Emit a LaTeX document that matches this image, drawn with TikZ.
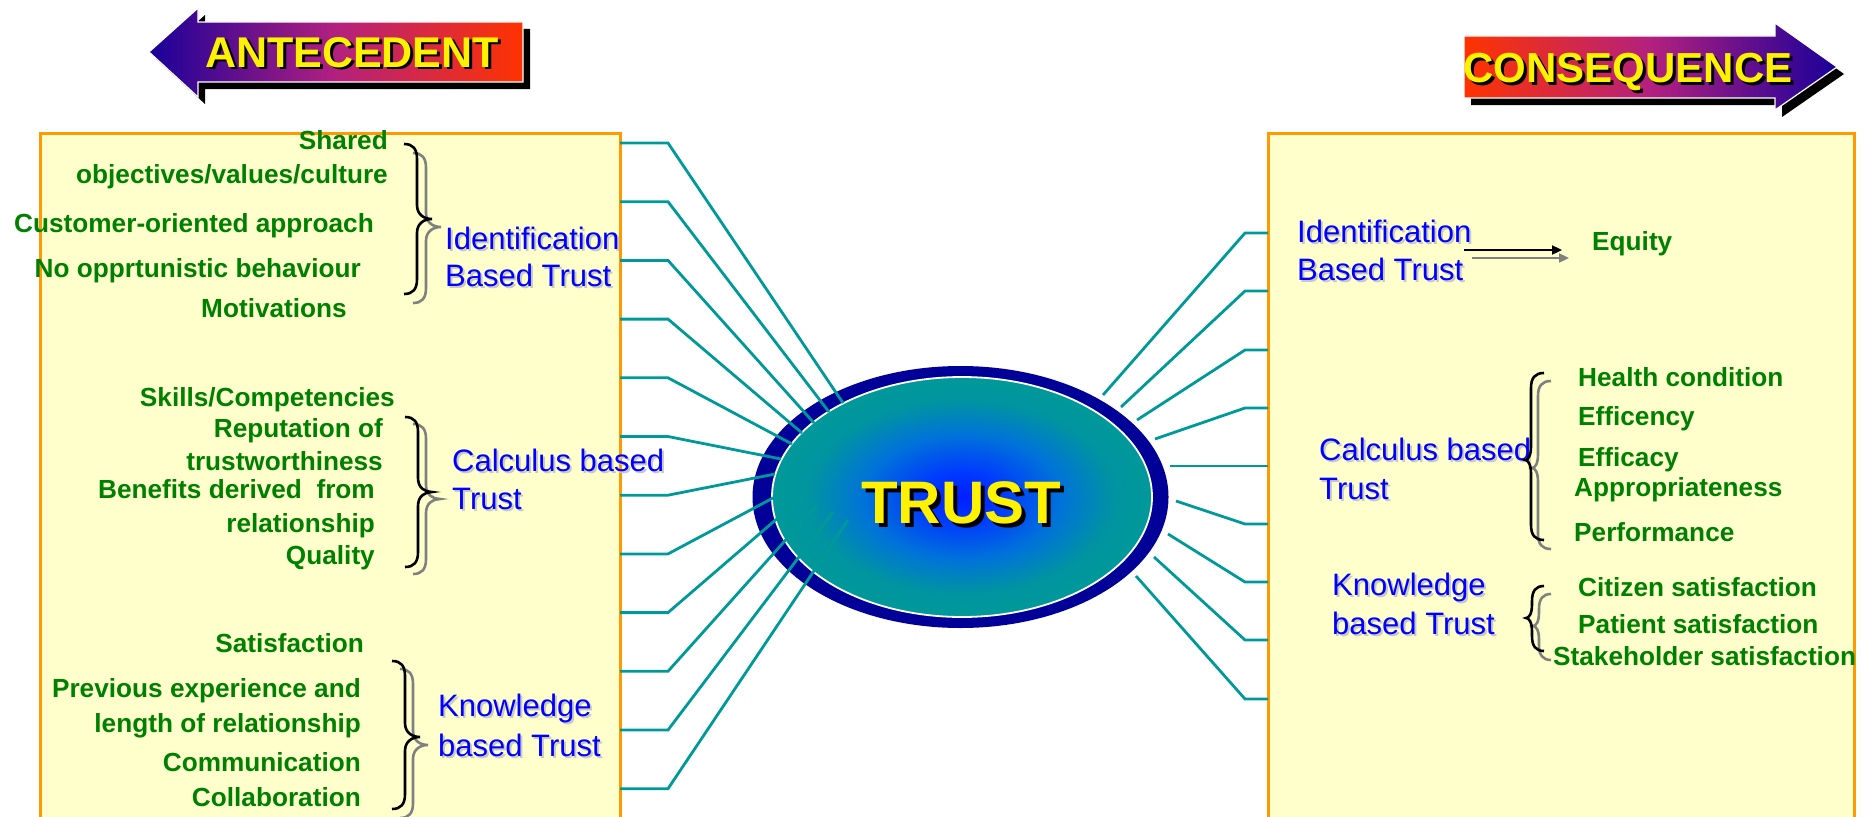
\documentclass[tikz,border=0pt]{standalone}
\usepackage{fontspec}
\setmainfont{Liberation Sans}
\usetikzlibrary{arrows.meta}
\definecolor{boxfill}{HTML}{FFFFCC}
\definecolor{boxline}{HTML}{FF9900}
\definecolor{conncol}{HTML}{009999}
\definecolor{gtext}{HTML}{008000}
\definecolor{btext}{HTML}{0000FF}
\definecolor{ringcol}{HTML}{000099}
\definecolor{arrblue}{HTML}{1A0099}
\definecolor{arrred}{HTML}{FF3300}
\definecolor{arrmid}{HTML}{B3207F}
\definecolor{bshcol}{HTML}{C8C8C8}
\pgfdeclareradialshading{trustshade}{\pgfpoint{0bp}{0bp}}{rgb(0bp)=(0,0.12,1); rgb(5bp)=(0,0.22,1); rgb(13bp)=(0,0.45,0.85); rgb(20bp)=(0,0.58,0.63); rgb(25bp)=(0,0.6,0.6); rgb(50bp)=(0,0.6,0.6)}
\newcommand\cbrace[7]{% style, x tip, y top, y mid, y bottom, w1, w2
  \draw[#1] (#2,#3) .. controls ({#2+0.7*(#6)},#3) and ({#2+(#6)},{#3+5}) .. ({#2+(#6)},{#3+15})
    -- ({#2+(#6)},{#4-14}) .. controls ({#2+(#6)},{#4-4}) and ({#2+(#6)+0.5*(#7)},#4) .. ({#2+(#6)+(#7)},#4)
    .. controls ({#2+(#6)+0.5*(#7)},#4) and ({#2+(#6)},{#4+4}) .. ({#2+(#6)},{#4+14})
    -- ({#2+(#6)},{#5-15}) .. controls ({#2+(#6)},{#5-5}) and ({#2+0.7*(#6)},#5) .. (#2,#5);}
\newcommand\bluetext[4]{% name, x, baseline, text
  \node[bsh, anchor=base west] at ({#2+2},{#3+2}) {#4};
  \node[btxt, anchor=base west] (#1) at (#2,#3) {#4};}
\newcommand\yeltext[5]{% name, x, baseline, size, text
  \node[ytxt, text=black, anchor=base, font=\fontsize{#4}{#4}\selectfont\bfseries] at ({#2+3},{#3+3}) {#5};
  \node[ytxt, anchor=base, font=\fontsize{#4}{#4}\selectfont\bfseries] (#1) at (#2,#3) {#5};}
\begin{document}
\begin{tikzpicture}[x=1pt,y=-1pt,
  gtxt/.style={text=gtext, font=\fontsize{26.2}{30}\selectfont\bfseries, inner sep=0pt},
  btxt/.style={text=btext, font=\fontsize{31}{36}\selectfont, inner sep=0pt},
  bsh/.style={text=bshcol, font=\fontsize{31}{36}\selectfont, inner sep=0pt},
  ytxt/.style={text=yellow, inner sep=0pt},
  conn/.style={conncol, line width=2.8pt},
  panel/.style={fill=boxfill, draw=boxline, line width=3pt},
  bblack/.style={black, line width=2.6pt},
  bgray/.style={gray, line width=2.6pt}]
\useasboundingbox (0,0) rectangle (1867,816);
\fill[white] (0,0) rectangle (1867,816);
\clip (0,0) rectangle (1867,816);

% panels
\path[panel] (40,133) rectangle (620,840);
\path[panel] (1268,133) rectangle (1854,840);

% header arrows
\fill[black] (156,59) -- (205,15) -- (205,29) -- (530,29) -- (530,89) -- (205,89) -- (205,104) -- cycle;
\shade[left color=arrblue, right color=arrred, middle color=arrmid, draw=white, line width=1.2pt]
  (149,52) -- (198,8) -- (198,22) -- (523,22) -- (523,82) -- (198,82) -- (198,97) -- cycle;
\yeltext{ante}{352}{67}{43}{ANTECEDENT}

\fill[black] (1471,43) -- (1782,43) -- (1782,30) -- (1844,74) -- (1782,117) -- (1782,105) -- (1471,105) -- cycle;
\shade[left color=arrred, right color=arrblue, middle color=arrmid, draw=white, line width=1.2pt]
  (1464,36) -- (1775,36) -- (1775,23) -- (1837,67) -- (1775,110) -- (1775,98) -- (1464,98) -- cycle;
\yeltext{cons}{1628}{82}{42}{CONSEQUENCE}

% central ellipse
\fill[ringcol] (960.5,497) ellipse [x radius=208, y radius=131];
\shade[shading=trustshade] (962,497) ellipse [x radius=190, y radius=120];
\draw[white, line width=1.8pt] (962,497) ellipse [x radius=190, y radius=120];

% left connectors
\foreach \yy/\ex/\ey in {143/843/403, 201.7/829/412, 260.4/814/423, 319.1/802/433, 377.8/792/444,
   436.5/781/459, 495.2/775/474, 553.9/803/482, 612.6/808/492, 671.3/817/505, 730/833/512, 788.7/848/520}
  \draw[conn] (620,\yy) -- (668,\yy) -- (\ex,\ey);
% right connectors
\foreach \yy/\ex/\ey in {233/1103/395, 291/1121/407, 350/1137/420, 408/1155/439, 466/1170/466,
   524/1176/501, 582/1168/534, 640/1154/557, 699/1136/576}
  \draw[conn] (1268,\yy) -- (1245,\yy) -- (\ex,\ey);

% TRUST label
\node[ytxt, text=black, anchor=base, font=\fontsize{60}{60}\selectfont\bfseries] at (965,527) {TRUST};
\node[ytxt, anchor=base, font=\fontsize{60}{60}\selectfont\bfseries] (trust) at (961,523) {TRUST};

% left braces
\cbrace{bgray}{413}{153}{227}{303}{13}{15}
\cbrace{bblack}{404}{144}{219}{294}{13}{15}
\cbrace{bgray}{413}{424}{499}{574}{13}{14}
\cbrace{bblack}{405}{417}{492}{567}{13}{14}
\cbrace{bgray}{400}{669}{745}{818}{13}{15}
\cbrace{bblack}{392}{661}{737}{809}{13}{15}

% left green items
\node[gtxt, anchor=base east] (a1) at (388,149) {Shared};
\node[gtxt, anchor=base east] (a2) at (388,183) {objectives/values/culture};
\node[gtxt, anchor=base east] (a3) at (374,232) {Customer-oriented approach};
\node[gtxt, anchor=base east] (a4) at (361,277) {No opprtunistic behaviour};
\node[gtxt, anchor=base east] (a5) at (347,317) {Motivations};

\node[gtxt, anchor=base east] (b1) at (395,406) {Skills/Competencies};
\node[gtxt, anchor=base east] (b2) at (383,437) {Reputation of};
\node[gtxt, anchor=base east] (b3) at (383,470) {trustworthiness};
\node[gtxt, anchor=base east] (b4) at (375,498) {Benefits derived\ \ from};
\node[gtxt, anchor=base east] (b5) at (375,532) {relationship};
\node[gtxt, anchor=base east] (b6) at (375,564) {Quality};

\node[gtxt, anchor=base east] (c1) at (364,652) {Satisfaction};
\node[gtxt, anchor=base east] (c2) at (361,697) {Previous experience and};
\node[gtxt, anchor=base east] (c3) at (361,732) {length of relationship};
\node[gtxt, anchor=base east] (c4) at (361,771) {Communication};
\node[gtxt, anchor=base east] (c5) at (361,806) {Collaboration};

% left blue labels
\bluetext{lid1}{445}{249}{Identification}
\bluetext{lid2}{445}{286}{Based Trust}
\bluetext{lca1}{452}{471}{Calculus based}
\bluetext{lca2}{452}{509}{Trust}
\bluetext{lkn1}{438}{716}{Knowledge}
\bluetext{lkn2}{438}{756}{based Trust}

% right blue labels
\bluetext{rid1}{1297}{242}{Identification}
\bluetext{rid2}{1297}{280}{Based Trust}
\bluetext{rca1}{1319}{460}{Calculus based}
\bluetext{rca2}{1319}{499}{Trust}
\bluetext{rkn1}{1332}{595}{Knowledge}
\bluetext{rkn2}{1332}{634}{based Trust}

% right braces
\cbrace{bgray}{1551}{381}{468}{549}{-13}{-6}
\cbrace{bblack}{1544}{373}{460}{540}{-13}{-6}
\cbrace{bgray}{1551}{594}{626}{660}{-12}{-6}
\cbrace{bblack}{1544}{586}{618}{651}{-12}{-6}

% right green items
\node[gtxt, anchor=base west] (eq) at (1592,250) {Equity};
\node[gtxt, anchor=base west] (d1) at (1578,386) {Health condition};
\node[gtxt, anchor=base west] (d2) at (1578,425) {Efficency};
\node[gtxt, anchor=base west] (d3) at (1578,466) {Efficacy};
\node[gtxt, anchor=base west] (d4) at (1574,496) {Appropriateness};
\node[gtxt, anchor=base west] (d5) at (1574,541) {Performance};
\node[gtxt, anchor=base west] (e1) at (1578,596) {Citizen satisfaction};
\node[gtxt, anchor=base west] (e2) at (1578,633) {Patient satisfaction};
\node[gtxt, anchor=base west] (e3) at (1553,665) {Stakeholder satisfaction};

% equity arrows
\coordinate (ea1) at (1464,250);
\coordinate (eb1) at (1562,250);
\coordinate (ea2) at (1472,258);
\coordinate (eb2) at (1569,258);
\draw[gray, line width=2.2pt, -{Triangle[length=10pt,width=9pt]}] (ea2) -- (eb2);
\draw[black, line width=2.2pt, -{Triangle[length=10pt,width=9pt]}] (ea1) -- (eb1);
\end{tikzpicture}
\end{document}
